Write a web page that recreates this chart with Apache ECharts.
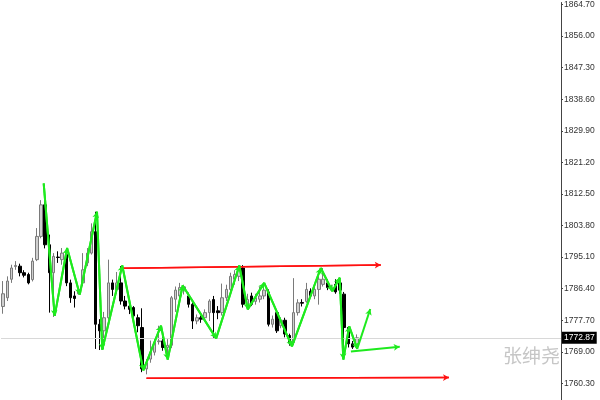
<!DOCTYPE html>
<html>
<head>
<meta charset="utf-8">
<script src="https://cdn.jsdelivr.net/npm/echarts@6/dist/echarts.min.js"></script>
<style>
  html, body { margin: 0; padding: 0; background: #fff; }
  #chart { width: 600px; height: 400px; }
</style>
</head>
<body>
<div id="chart"></div>
<script>
// candles: [open, close, low, high]
const ohlc = [
  [1781.5, 1785.0, 1779.5, 1788.5], [1783.9, 1788.5, 1783.0, 1789.8], [1789.0, 1792.1, 1788.0, 1793.0],
  [1792.5, 1792.8, 1791.6, 1794.0], [1792.6, 1790.8, 1789.8, 1793.3], [1790.8, 1790.1, 1789.5, 1791.5],
  [1790.3, 1788.0, 1787.6, 1790.8], [1788.9, 1794.0, 1788.4, 1794.9], [1794.4, 1800.8, 1794.0, 1803.1],
  [1800.8, 1809.5, 1800.3, 1810.8], [1809.5, 1798.5, 1797.5, 1815.0], [1798.5, 1790.8, 1779.8, 1801.3],
  [1790.8, 1795.3, 1778.6, 1796.2], [1795.1, 1795.0, 1793.5, 1796.7], [1794.4, 1796.2, 1793.0, 1797.6],
  [1795.8, 1788.0, 1787.1, 1797.6], [1788.0, 1783.9, 1782.5, 1788.9], [1784.4, 1783.7, 1781.2, 1785.7],
  [1785.0, 1786.0, 1784.8, 1786.8], [1788.0, 1791.6, 1787.1, 1796.2], [1793.5, 1796.2, 1792.6, 1797.6],
  [1796.2, 1802.1, 1795.8, 1804.4], [1802.1, 1776.6, 1769.8, 1807.6], [1776.6, 1774.8, 1769.5, 1778.0],
  [1774.8, 1778.4, 1769.8, 1780.0], [1778.4, 1788.0, 1777.9, 1794.4], [1788.0, 1786.2, 1784.4, 1788.9],
  [1786.2, 1788.0, 1785.0, 1791.0], [1788.0, 1783.0, 1782.0, 1792.6], [1783.0, 1781.6, 1780.7, 1784.4],
  [1781.6, 1780.7, 1779.4, 1782.5], [1781.2, 1778.9, 1777.1, 1781.6], [1778.4, 1776.2, 1774.4, 1779.3],
  [1775.7, 1764.3, 1763.4, 1781.0], [1764.3, 1766.0, 1762.8, 1767.0], [1767.0, 1768.9, 1766.0, 1772.1],
  [1768.9, 1771.6, 1768.0, 1772.5], [1771.8, 1772.0, 1771.0, 1776.2], [1772.0, 1770.2, 1769.3, 1774.4],
  [1770.2, 1770.8, 1767.0, 1772.5], [1770.8, 1783.9, 1770.0, 1784.4], [1783.5, 1786.0, 1780.0, 1787.0],
  [1784.4, 1786.7, 1783.5, 1788.0], [1786.0, 1786.9, 1784.8, 1787.5], [1784.4, 1782.1, 1781.2, 1785.3],
  [1782.1, 1777.5, 1775.3, 1782.6], [1777.5, 1778.4, 1776.6, 1779.3], [1778.4, 1778.0, 1777.0, 1779.0],
  [1778.4, 1779.8, 1777.5, 1780.7], [1779.8, 1783.0, 1777.5, 1783.5], [1783.4, 1779.8, 1772.9, 1784.4],
  [1780.3, 1779.8, 1778.0, 1781.6], [1779.8, 1783.9, 1779.0, 1787.8], [1783.9, 1786.2, 1783.0, 1787.5],
  [1786.2, 1789.8, 1785.5, 1790.8], [1789.0, 1790.3, 1787.5, 1791.5], [1789.8, 1791.6, 1788.5, 1792.8],
  [1792.1, 1782.1, 1781.2, 1792.9], [1781.2, 1783.4, 1780.7, 1785.0], [1784.4, 1782.1, 1781.6, 1785.3],
  [1782.9, 1783.9, 1782.0, 1785.0], [1783.5, 1784.4, 1782.6, 1787.0], [1784.4, 1786.0, 1783.5, 1788.0],
  [1785.5, 1776.6, 1776.0, 1786.2], [1776.6, 1778.0, 1775.7, 1779.0], [1779.8, 1774.8, 1774.2, 1780.7],
  [1776.2, 1777.7, 1775.5, 1778.5], [1777.7, 1773.9, 1773.0, 1778.4], [1773.5, 1771.6, 1770.7, 1774.0],
  [1771.6, 1779.8, 1770.9, 1789.3], [1779.8, 1782.5, 1779.0, 1783.5], [1782.6, 1782.4, 1781.5, 1783.5],
  [1782.9, 1786.2, 1782.5, 1788.0], [1785.7, 1784.4, 1783.9, 1786.5], [1784.4, 1786.2, 1783.5, 1787.0],
  [1786.2, 1789.0, 1782.0, 1789.8], [1787.6, 1789.0, 1787.0, 1792.1], [1788.0, 1786.7, 1786.0, 1789.0],
  [1786.0, 1786.7, 1785.7, 1787.5], [1787.6, 1785.5, 1785.0, 1789.0], [1788.0, 1786.0, 1785.0, 1789.4],
  [1784.9, 1775.7, 1767.0, 1785.5], [1775.7, 1771.2, 1770.2, 1776.0], [1771.2, 1770.3, 1769.8, 1772.0],
  [1770.5, 1772.87, 1770.2, 1773.8]
];
const totalSlots = 133;
const lastPrice = 1772.87;

// zigzag vertices (bar position, price)
const zigX = [9.64, 12.25, 15.2, 18.2, 22.3, 23.55, 28.3, 33.3, 37.5, 39.1, 42.65, 50.6, 56.1, 58.1, 62.0, 68.6, 75.45, 78.2, 79.95, 80.8, 82.2, 84.1];
const zigY = [1815.4, 1778.9, 1797.6, 1784.8, 1807.6, 1769.6, 1792.8, 1763.9, 1776.2, 1766.9, 1787.3, 1772.7, 1792.8, 1780.7, 1788.0, 1770.5, 1792.1, 1785.7, 1789.4, 1766.9, 1776.0, 1769.8];
// projection arrows at the end
const arrowUp = [[84.1, 1769.8], [87.2, 1780.8]];
const arrowFlat = [[82.6, 1769.1], [94.2, 1770.4]];
// channel lines
const redTop = [[28.1, 1792.0], [89.7, 1792.9]];
const redBottom = [[34.05, 1761.7], [105.9, 1761.9]];

const yTicks = [1760.30, 1769.00, 1777.70, 1786.40, 1795.10, 1803.80, 1812.50, 1821.20, 1829.90, 1838.60, 1847.30, 1856.00, 1864.70];

const categories = [];
for (let i = 0; i < totalSlots; i++) categories.push(String(i + 1));

const zigPoints = zigX.map((x, i) => [x, zigY[i]]);
const zigSegments = [];
for (let i = 1; i < zigPoints.length; i++) {
  zigSegments.push([{ coord: zigPoints[i - 1] }, { coord: zigPoints[i] }]);
}
zigSegments.push([{ coord: arrowUp[0] }, { coord: arrowUp[1] }]);
zigSegments.push([{ coord: arrowFlat[0] }, { coord: arrowFlat[1] }]);

const green = '#1eea1e';
const red = '#ff1010';

function arrowLine (segs, color, width) {
  return {
    silent: true,
    symbol: ['none', 'arrow'],
    symbolSize: [5, 6],
    label: { show: false },
    emphasis: { disabled: true },
    lineStyle: { color: color, width: width, type: 'solid' },
    data: segs
  };
}

const chart = echarts.init(document.getElementById('chart'));
chart.setOption({
  animation: false,
  backgroundColor: '#fff',
  grid: { left: 1, right: 39, top: 0, bottom: 0 },
  xAxis: [
    { type: 'category', data: categories, show: false, boundaryGap: true },
    { type: 'value', min: -0.5, max: totalSlots - 0.5, show: false }
  ],
  yAxis: {
    type: 'value',
    position: 'right',
    min: 1755.73,
    max: 1865.25,
    splitLine: { show: false },
    axisLine: { show: true, onZero: false, lineStyle: { color: '#444', width: 1 } },
    axisTick: { show: true, length: 2, customValues: yTicks, lineStyle: { color: '#444' } },
    axisLabel: {
      customValues: yTicks,
      formatter: v => v.toFixed(2),
      color: '#333',
      fontSize: 8.5,
      fontFamily: 'Liberation Sans',
      margin: 3
    }
  },
  graphic: [{
    type: 'text',
    left: 503,
    top: 346,
    z: 0,
    style: { text: '张绅尧', fill: '#c6c6c6', fontSize: 19, fontFamily: 'Noto Sans CJK SC' }
  }],
  series: [
    {
      type: 'candlestick',
      data: ohlc,
      barWidth: 3,
      itemStyle: {
        color: '#cfcfcf',
        color0: '#000',
        borderColor: '#7a7a7a',
        borderColor0: '#000',
        borderWidth: 1
      },
      markLine: {
        silent: true,
        symbol: 'none',
        lineStyle: { color: '#d8d8d8', width: 1, type: 'solid' },
        label: {
          position: 'end',
          formatter: lastPrice.toFixed(2),
          backgroundColor: '#000',
          color: '#fff',
          fontSize: 8.5,
          fontFamily: 'Liberation Sans',
          padding: [2, 2, 1, 2],
          distance: 1
        },
        data: [{ yAxis: lastPrice }]
      }
    },
    {
      type: 'line',
      xAxisIndex: 1,
      data: zigPoints,
      symbol: 'none',
      lineStyle: { color: green, width: 2 },
      z: 5,
      markLine: arrowLine(zigSegments, green, 2)
    },
    {
      type: 'line',
      xAxisIndex: 1,
      data: redTop,
      symbol: 'none',
      lineStyle: { color: red, width: 1.5 },
      z: 4,
      markLine: arrowLine([[{ coord: redTop[0] }, { coord: redTop[1] }]], red, 1.5)
    },
    {
      type: 'line',
      xAxisIndex: 1,
      data: redBottom,
      symbol: 'none',
      lineStyle: { color: red, width: 1.5 },
      z: 4,
      markLine: arrowLine([[{ coord: redBottom[0] }, { coord: redBottom[1] }]], red, 1.5)
    }
  ]
});
</script>
</body>
</html>
